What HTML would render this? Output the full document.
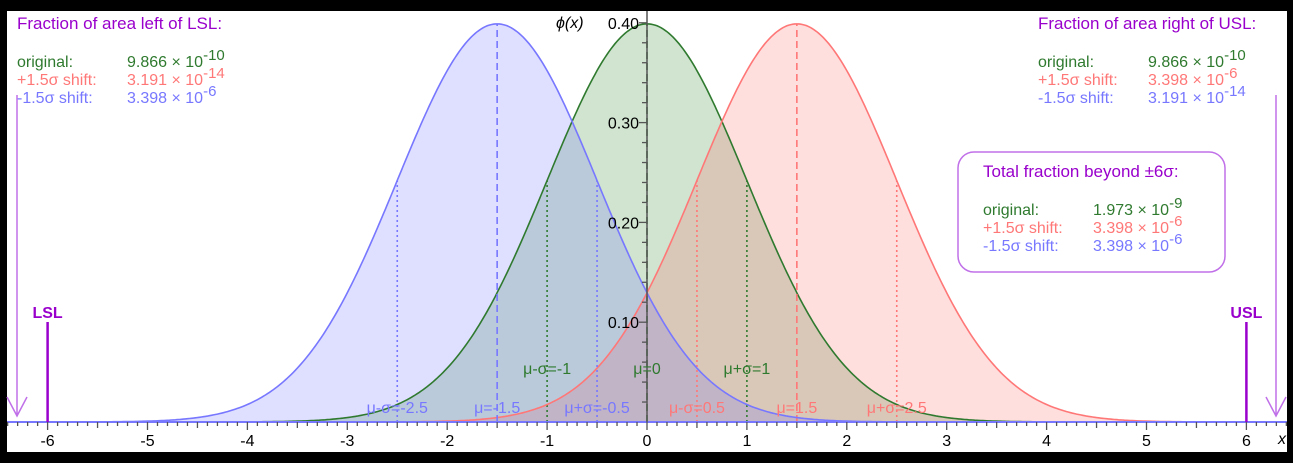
<!DOCTYPE html>
<html><head><meta charset="utf-8"><style>
html,body{margin:0;padding:0;background:#000;}
svg{display:block;font-family:"Liberation Sans","DejaVu Sans",sans-serif;}
</style></head><body>
<svg id="c" width="1293" height="463" xmlns="http://www.w3.org/2000/svg">
<rect x="7" y="11" width="1280" height="441" fill="#fff"/>
<g id="fills"></g><g id="lines"></g><g id="axes"></g><g id="labels"></g>
</svg>
<script>
const means=[0,1.5,-1.5];
const seriesNames=["original","plus-shift","minus-shift"];
const strokeCols=["#2f7a2f","#ff7777","#7777ff"];
const fillCols=["rgba(40,130,40,0.22)","rgba(255,90,90,0.2)","rgba(110,110,255,0.22)"];
const xTicks=[-6,-5,-4,-3,-2,-1,0,1,2,3,4,5,6];
const yTicks=[0.10,0.20,0.30,0.40];
const specLimits=[-6,6];
const NS="http://www.w3.org/2000/svg";
const X=v=>647+v*99.9;
const Y=p=>422-998*p;
const phi=x=>Math.exp(-x*x/2)/Math.sqrt(2*Math.PI);
function el(t,a,p){const e=document.createElementNS(NS,t);for(const k in a)e.setAttribute(k,a[k]);p.appendChild(e);return e;}
const F=document.getElementById('fills'),L=document.getElementById('lines'),A=document.getElementById('axes'),T=document.getElementById('labels');
means.forEach((m,i)=>{
  let d="",pts=[];
  for(let v=-6.4;v<=6.41;v+=0.02){pts.push(X(v).toFixed(1)+","+Y(phi(v-m)).toFixed(1));}
  const f=el('path',{d:"M"+X(-6.4)+","+Y(0)+" L"+pts.join(" L")+" L"+X(6.4)+","+Y(0)+"Z",fill:fillCols[i]},F);
  
  
  const l=el('path',{d:"M"+pts.join(" L"),fill:"none",stroke:strokeCols[i],"stroke-width":1.6},L);
  
  
  const dm=el('line',{x1:X(m),x2:X(m),y1:Y(0),y2:Y(phi(0)),stroke:strokeCols[i],"stroke-width":1.6,"stroke-dasharray":"7,4"},L);
  
  
  [-1,1].forEach(s=>{
    const ds=el('line',{x1:X(m+s),x2:X(m+s),y1:Y(0),y2:Y(phi(1)),stroke:strokeCols[i],"stroke-width":1.6,"stroke-dasharray":"2,3"},L);
    
    
  });
});
// x axis
const xa=el('line',{x1:7,x2:1287,y1:Y(0),y2:Y(0),stroke:"#7777ff","stroke-width":2},A);


for(let k=-64;k<=64;k++){
  const v=k/10,len=(k%10===0)?8:(k%5===0?6:4);
  const t=el('line',{x1:X(v),x2:X(v),y1:Y(0),y2:Y(0)+len,stroke:"#555","stroke-width":1.3},A);
  
  
}
xTicks.forEach(v=>{
  const t=el('text',{x:X(v),y:446,"font-size":16,"text-anchor":"middle",fill:"#000"},A);
  t.textContent=String(v);
  
  
});
const xl=el('text',{x:1278,y:444,"font-size":16,"font-style":"italic",fill:"#000"},A);
xl.textContent="x";


// y axis
const ya=el('line',{x1:X(0),x2:X(0),y1:11,y2:Y(0),stroke:"#555","stroke-width":1.5},A);


for(let k=1;k<=40;k++){
  if(k%2)continue;
  const len=(k%10===0)?8:5;
  const t=el('line',{x1:X(0)-len,x2:X(0),y1:Y(k/100),y2:Y(k/100),stroke:"#555","stroke-width":1.3},A);
  
  
}
yTicks.forEach(v=>{
  const t=el('text',{x:X(0)-8,y:Y(v)+6,"font-size":16,"text-anchor":"end",fill:"#000"},A);
  t.textContent=v.toFixed(2);
  
  
});
const yl=el('text',{x:556,y:28,"font-size":16,"font-style":"italic",fill:"#000"},A);
yl.textContent="\u03D5(x)";


// spec limits
specLimits.forEach((v,i)=>{
  const l=el('line',{x1:X(v),x2:X(v),y1:322,y2:Y(0),stroke:"#9900cc","stroke-width":2.5},A);
  
  
  const t=el('text',{x:X(v),y:318,"font-size":16,"font-weight":"bold","text-anchor":"middle",fill:"#9900cc"},A);
  t.textContent=i?"USL":"LSL";
  
  
});
[17,1276].forEach((x,i)=>{
  const p=el('path',{d:`M${x},95 L${x},416 M${x-10},397 L${x},416 L${x+10},397`,fill:"none",stroke:"#c070e8","stroke-width":1.5},A);
  
  
});
// mu labels
const muLabels=[["μ-σ=-1",-1,374,0],["μ=0",0,374,0],["μ+σ=1",1,374,0],
["μ-σ=-2.5",-2.5,413,2],["μ=-1.5",-1.5,413,2],["μ+σ=-0.5",-0.5,413,2],
["μ-σ=0.5",0.5,413,1],["μ=1.5",1.5,413,1],["μ+σ=2.5",2.5,413,1]];
muLabels.forEach(a=>{
  const t=el('text',{x:X(a[1]),y:a[2],"font-size":16,"text-anchor":"middle",fill:strokeCols[a[3]]},T);
  t.textContent=a[0];
  
  
});
function block(x,y,title,rows,name){
  const g=el('g',{},T);
  
  
  const t=el('text',{x:x,y:y,"font-size":17,fill:"#9900cc"},g);t.textContent=title;
  rows.forEach((r,i)=>{
    const yy=y+38+i*18;
    const a=el('text',{x:x,y:yy,"font-size":16,fill:r[2]},g);a.textContent=r[0];
    const b=el('text',{x:x+110,y:yy,"font-size":16,fill:r[2]},g);
    b.innerHTML=r[1]+" × 10<tspan dy='-7' font-size='15'>"+r[3]+"</tspan>";
  });
}
block(17,29,"Fraction of area left of LSL:",[["original:","9.866","#2f7a2f","-10"],["+1.5σ shift:","3.191","#ff7777","-14"],["-1.5σ shift:","3.398","#7777ff","-6"]],"left-tail-fractions");
block(1038,29,"Fraction of area right of USL:",[["original:","9.866","#2f7a2f","-10"],["+1.5σ shift:","3.398","#ff7777","-6"],["-1.5σ shift:","3.191","#7777ff","-14"]],"right-tail-fractions");
const bx=el('rect',{x:958,y:152,width:267,height:120,rx:16,fill:"#fff",stroke:"#c070e8","stroke-width":1.5},T);


block(983,177,"Total fraction beyond ±6σ:",[["original:","1.973","#2f7a2f","-9"],["+1.5σ shift:","3.398","#ff7777","-6"],["-1.5σ shift:","3.398","#7777ff","-6"]],"total-fractions");
</script>
</body></html>
